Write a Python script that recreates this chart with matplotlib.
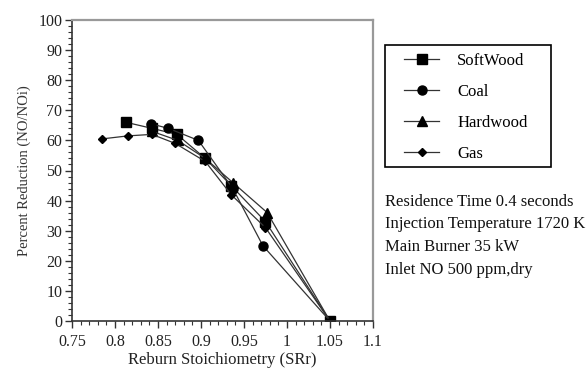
import matplotlib
matplotlib.use("Agg")
import matplotlib.pyplot as plt
from matplotlib.ticker import MultipleLocator
from matplotlib.patches import Rectangle

plt.rcParams['font.family'] = ['Liberation Serif', 'DejaVu Serif']

# données
sw_x = [0.813, 0.843, 0.872, 0.905, 0.935, 0.975, 1.05]
sw_y = [66, 64, 62, 54, 45, 33, 0]

coal_x = [0.842, 0.862, 0.897, 0.937, 0.972, 1.05]
coal_y = [65.5, 64, 60, 44, 25, 0]

hw_x = [0.843, 0.873, 0.905, 0.937, 0.977, 1.05]
hw_y = [63, 60, 54, 46, 36, 0]

gas_x = [0.785, 0.815, 0.843, 0.87, 0.905, 0.935, 0.975, 1.05]
gas_y = [60.5, 61.5, 62, 59, 53, 42, 31, 0]

notes = ["Residence Time 0.4 seconds",
         "Injection Temperature 1720 K",
         "Main Burner 35 kW",
         "Inlet NO 500 ppm,dry"]

####################################################################################

W, H = 588, 369
fig = plt.figure(figsize=(W/100, H/100), dpi=100)
ax = fig.add_axes([72/W, 48/H, 301/W, 301/H])

lc = '#333333'
ax.plot(sw_x, sw_y, '-', color=lc, lw=0.9, marker='s', ms=6.5, mfc='black', mec='black', label='SoftWood')
ax.plot(coal_x, coal_y, '-', color=lc, lw=0.9, marker='o', ms=6.5, mfc='black', mec='black', label='Coal')
ax.plot(hw_x, hw_y, '-', color=lc, lw=0.9, marker='^', ms=6.5, mfc='black', mec='black', label='Hardwood')
ax.plot(gas_x, gas_y, '-', color=lc, lw=0.9, marker='D', ms=4.5, mfc='black', mec='black', label='Gas')

ax.set_xlim(0.75, 1.1)
ax.set_ylim(0, 100)
ax.xaxis.set_minor_locator(MultipleLocator(0.01))
ax.yaxis.set_major_locator(MultipleLocator(10))
ax.yaxis.set_minor_locator(MultipleLocator(2))
ax.set_xticks([0.75, 0.8, 0.85, 0.9, 0.95, 1.0, 1.05, 1.1])
ax.set_xticklabels(['0.75', '0.8', '0.85', '0.9', '0.95', '1', '1.05', '1.1'])
ax.tick_params(which='both', direction='out', labelsize=11.5, colors='#333333', labelcolor='#222222')
ax.tick_params(which='major', length=5, width=1.0)
ax.tick_params(which='minor', length=3, width=0.8)
ax.tick_params(axis='x', pad=4)
ax.tick_params(axis='y', pad=2)
for nom, s in ax.spines.items():
	if nom in ('top', 'right'):
		s.set_color('#999999')
		s.set_linewidth(1.6)
	else:
		s.set_color('#333333')
		s.set_linewidth(1.2)

ax.set_xlabel('Reburn Stoichiometry (SRr)', fontsize=12, labelpad=2, color='#222222')
ax.set_ylabel('Percent Reduction (NO/NOi)', fontsize=10.5, labelpad=5, color='#333333')

# légende sans cadre + cadre dessiné à la main
leg = fig.legend(loc='upper left', bbox_to_anchor=(404/W, 1 - 53/H), fontsize=12,
                 frameon=False, handlelength=2.1, labelspacing=0.9, borderpad=0,
                 handletextpad=1.1, borderaxespad=0)
fig.add_artist(Rectangle((385/W, 1 - 167/H), (551-385)/W, (167-45)/H, transform=fig.transFigure,
                         fill=False, edgecolor='black', lw=1.2))

for i, t in enumerate(notes):
	fig.text(385/W, 1 - (202 + i*22.5)/H, t, fontsize=12, va='center', ha='left', color='#111111')

fig.savefig('out.png', dpi=100)
